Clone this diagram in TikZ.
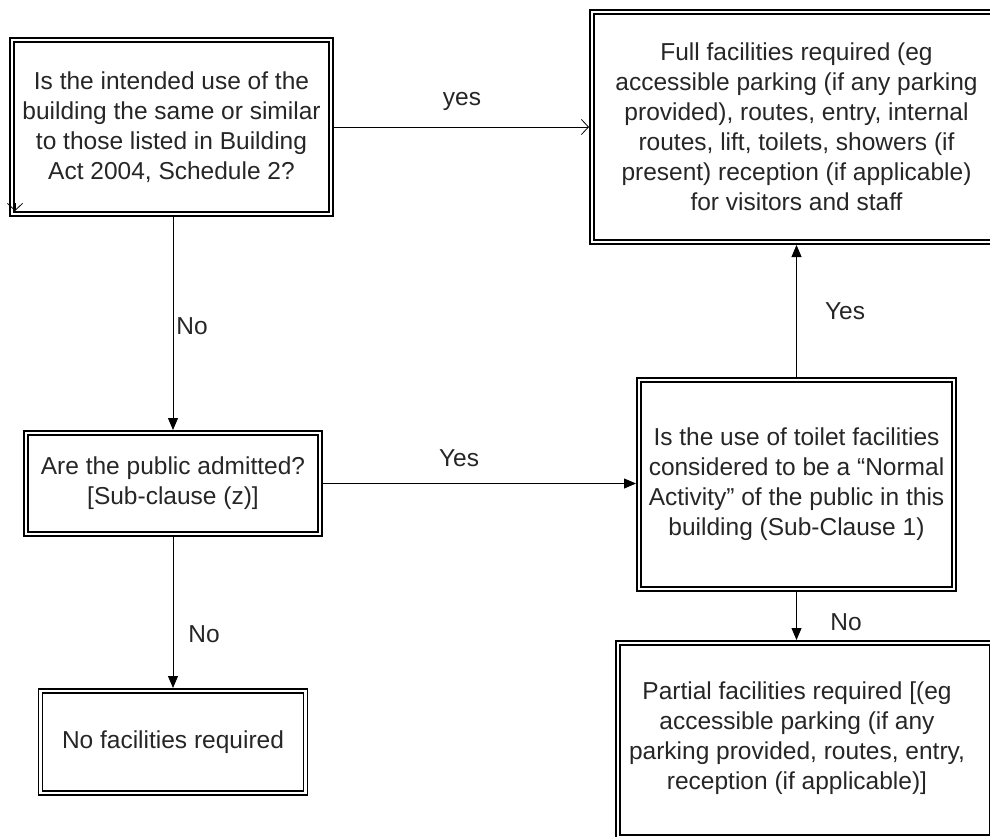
\documentclass[tikz,border=0pt]{standalone}
\usepackage{fontspec}
\setmainfont{Liberation Sans}
\usetikzlibrary{arrows.meta}
\begin{document}
\begin{tikzpicture}[x=1pt,y=-1pt,
  box/.style={draw=black, line width=1.3pt, double=white, double distance=2.6pt,
    rectangle, inner sep=0pt, outer sep=3pt},
  txt/.style={align=center, inner sep=0pt, text=black!85,
    font=\fontsize{24.5}{30}\selectfont},
  lbl/.style={inner sep=0pt, text=black!85, font=\fontsize{24.5}{30}\selectfont},
  conn/.style={draw=black, line width=0.8pt},
  solidarrow/.style={conn, -{Triangle[length=12pt,width=10pt]}},
  openarrow/.style={conn, -{Straight Barb[length=7pt,width=15pt,line width=0.8pt]}}
]
\useasboundingbox (0,0) rectangle (990,836);
\clip (0,0) rectangle (990,836);

% boxes (path centered on the double border)
\node[box, minimum width=319pt, minimum height=174pt] (b1) at (171.5,127) {};
\node[box, minimum width=410pt, minimum height=230pt] (b2) at (797,127) {};
\node[box, minimum width=294pt, minimum height=101pt] (b3) at (173,483.5) {};
\node[box, minimum width=315pt, minimum height=209pt] (b4) at (796.5,484.5) {};
\node[box, minimum width=374pt, minimum height=194pt] (b5) at (805,740) {};
\node[box, minimum width=265pt, minimum height=102pt] (b6) at (173,742) {};

% texts
\node[txt] (t1) at (171.5,127) {Is the intended use of the\\building the same or similar\\to those listed in Building\\Act 2004, Schedule 2?};
\node[txt] (t2) at (796.5,127) {Full facilities required (eg\\accessible parking (if any parking\\provided), routes, entry, internal\\routes, lift, toilets, showers (if\\present) reception (if applicable)\\for visitors and staff};
\node[txt] (t3) at (173,483.5) {Are the public admitted?\\{}[Sub-clause (z)]};
\node[txt] (t4) at (796.5,484.5) {Is the use of toilet facilities\\considered to be a “Normal\\Activity” of the public in this\\building (Sub-Clause 1)};
\node[txt] (t5) at (797,738) {Partial facilities required [(eg\\accessible parking (if any\\parking provided, routes, entry,\\reception (if applicable)]};
\node[txt] (t6) at (173,742) {No facilities required};

% connectors
\draw[openarrow] (b1.east) -- (b1.east -| b2.west);
\node[lbl] (l1) at (462,101) {yes};

\draw[solidarrow] (b3.north |- b1.south) -- (b3.north);
\node[lbl] (l2) at (192,326) {No};

\draw[solidarrow] (b3.east) -- (b3.east -| b4.west);
\node[lbl] (l3) at (459,458) {Yes};

\draw[solidarrow] (b3.south) -- (b3.south |- b6.north);
\node[lbl] (l4) at (204,634) {No};

\draw[solidarrow] (b4.north) -- (b4.north |- b2.south);
\node[lbl] (l5) at (845,311) {Yes};

\draw[solidarrow] (b4.south) -- (b4.south |- b5.north);
\node[lbl] (l6) at (846,622) {No};

% stray arrowhead at the first box
\coordinate (s1) at (15,203);
\coordinate (s2) at (15,211);
\draw[openarrow] (s1) -- (s2);
\end{tikzpicture}
\end{document}
